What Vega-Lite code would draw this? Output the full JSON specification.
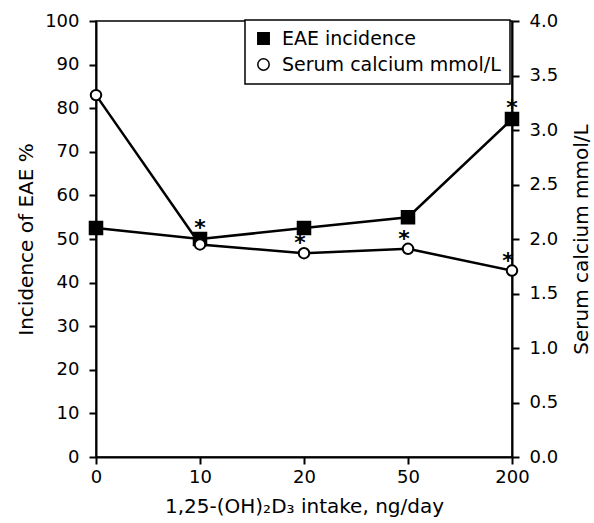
{
  "$schema": "https://vega.github.io/schema/vega-lite/v6.json",
  "autosize": "none",
  "width": 416,
  "height": 436,
  "padding": {"left": 96, "top": 21, "right": 82, "bottom": 66},
  "background": "white",
  "config": {
    "view": {"stroke": "black", "strokeWidth": 1.5},
    "font": "DejaVu Sans",
    "axis": {
      "grid": false,
      "domainColor": "black",
      "domainWidth": 2,
      "tickColor": "black",
      "tickWidth": 2,
      "tickSize": 7,
      "labelFont": "DejaVu Sans",
      "labelFontSize": 18,
      "labelColor": "black",
      "titleFont": "DejaVu Sans",
      "titleFontSize": 20,
      "titleFontWeight": "normal",
      "titleColor": "black"
    },
    "legend": {
      "orient": "none",
      "legendX": 149,
      "legendY": -1,
      "strokeColor": "black",
      "strokeWidth": 1.5,
      "fillColor": "white",
      "padding": 9,
      "labelFont": "DejaVu Sans",
      "labelFontSize": 19,
      "labelColor": "black",
      "labelLimit": 400,
      "labelOffset": 9,
      "symbolSize": 130,
      "symbolStrokeColor": "black",
      "symbolStrokeWidth": 1.5,
      "rowPadding": 6
    }
  },
  "data": {
    "values": [
      {"dose": "0", "series": "EAE incidence", "value": 52.5, "star": ""},
      {"dose": "10", "series": "EAE incidence", "value": 50, "star": "*"},
      {"dose": "20", "series": "EAE incidence", "value": 52.5, "star": ""},
      {"dose": "50", "series": "EAE incidence", "value": 55, "star": ""},
      {"dose": "200", "series": "EAE incidence", "value": 77.5, "star": "*"},
      {"dose": "0", "series": "Serum calcium mmol/L", "value": 3.32, "star": ""},
      {"dose": "10", "series": "Serum calcium mmol/L", "value": 1.95, "star": ""},
      {"dose": "20", "series": "Serum calcium mmol/L", "value": 1.87, "star": "*"},
      {"dose": "50", "series": "Serum calcium mmol/L", "value": 1.91, "star": "*"},
      {"dose": "200", "series": "Serum calcium mmol/L", "value": 1.71, "star": "*"}
    ]
  },
  "encoding": {
    "x": {
      "field": "dose",
      "type": "ordinal",
      "sort": ["0", "10", "20", "50", "200"],
      "scale": {"type": "point", "padding": 0},
      "axis": {"labelAngle": 0, "labelPadding": 4, "titlePadding": 10, "title": "1,25-(OH)₂D₃ intake, ng/day"}
    }
  },
  "layer": [
    {
      "transform": [{"filter": "datum.series === 'EAE incidence'"}],
      "encoding": {
        "y": {
          "field": "value",
          "type": "quantitative",
          "scale": {"domain": [0, 100], "nice": false},
          "axis": {
            "orient": "left",
            "values": [0, 10, 20, 30, 40, 50, 60, 70, 80, 90, 100],
            "labelPadding": 10,
            "titlePadding": 8,
            "title": "Incidence of EAE %"
          }
        }
      },
      "layer": [
        {"mark": {"type": "line", "color": "black", "strokeWidth": 2.5}, "encoding": {}},
        {
          "mark": {"type": "point", "filled": true, "strokeWidth": 1.5, "size": 170, "opacity": 1},
          "encoding": {
            "shape": {"field": "series", "type": "nominal", "title": null, "scale": {"domain": ["EAE incidence", "Serum calcium mmol/L"], "range": ["square", "circle"]}},
            "fill": {"field": "series", "type": "nominal", "title": null, "scale": {"domain": ["EAE incidence", "Serum calcium mmol/L"], "range": ["black", "white"]}},
            "stroke": {"field": "series", "type": "nominal", "title": null, "scale": {"domain": ["EAE incidence", "Serum calcium mmol/L"], "range": ["black", "black"]}}
          }
        },
        {
          "mark": {"type": "text", "font": "DejaVu Sans", "fontSize": 22, "fontWeight": "bold", "dy": -11, "baseline": "middle", "fill": "#000000"},
          "encoding": {"text": {"field": "star"}}
        }
      ]
    },
    {
      "transform": [{"filter": "datum.series === 'Serum calcium mmol/L'"}],
      "encoding": {
        "y": {
          "field": "value",
          "type": "quantitative",
          "scale": {"domain": [0, 4], "nice": false},
          "axis": {
            "orient": "right",
            "values": [0, 0.5, 1, 1.5, 2, 2.5, 3, 3.5, 4],
            "format": ".1f",
            "labelPadding": 10,
            "titlePadding": 14,
            "titleAngle": 270,
            "titleBaseline": "top",
            "title": "Serum calcium mmol/L"
          }
        }
      },
      "layer": [
        {"mark": {"type": "line", "color": "black", "strokeWidth": 2.5}, "encoding": {}},
        {
          "mark": {"type": "point", "filled": true, "strokeWidth": 2, "size": 110, "opacity": 1},
          "encoding": {
            "shape": {"field": "series", "type": "nominal", "title": null},
            "fill": {"field": "series", "type": "nominal", "title": null},
            "stroke": {"field": "series", "type": "nominal", "title": null}
          }
        },
        {
          "mark": {"type": "text", "font": "DejaVu Sans", "fontSize": 22, "fontWeight": "bold", "dy": -10, "dx": -4, "baseline": "middle", "fill": "#000000"},
          "encoding": {"text": {"field": "star"}}
        }
      ]
    }
  ],
  "resolve": {"scale": {"y": "independent"}}
}
